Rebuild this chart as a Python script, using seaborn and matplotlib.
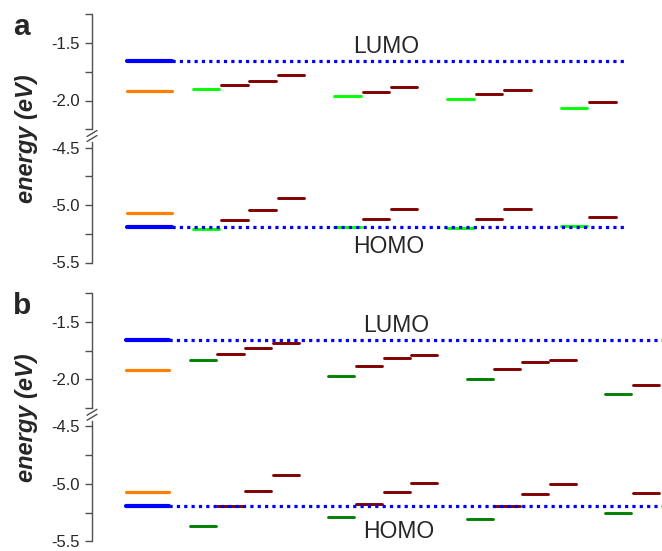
import matplotlib.pyplot as plt
import numpy as np
import pandas as pd
import seaborn as sns
from matplotlib.lines import Line2D
from matplotlib.ticker import FormatStrFormatter, MultipleLocator

# reference levels (eV): [blue, orange]
ref_lumo_a = [-1.66, -1.92]
ref_homo_a = [-5.19, -5.07]
ref_lumo_b = [-1.66, -1.917]
ref_homo_b = [-5.19, -5.07]

# per group: first value is the green level, the rest are dark red
lumo_a = [[-1.90, -1.865, -1.83, -1.78],
          [-1.96, -1.922, -1.884],
          [-1.985, -1.944, -1.912],
          [-2.062, -2.014]]
homo_a = [[-5.21, -5.13, -5.045, -4.935],
          [-5.19, -5.122, -5.032],
          [-5.203, -5.122, -5.032],
          [-5.183, -5.101]]

lumo_b = [[-1.836, -1.778, -1.729, -1.686],
          [-1.967, -1.880, -1.819, -1.787],
          [-1.996, -1.909, -1.848, -1.830],
          [-2.129, -2.048]]
homo_b = [[-5.371, -5.191, -5.061, -4.922],
          [-5.293, -5.174, -5.072, -4.991],
          [-5.310, -5.191, -5.090, -5.003],
          [-5.252, -5.081]]

panel_labels = ['a', 'b']

# layout (slot units)
group_start = {'a': [0, 5, 9, 13], 'b': [0, 5, 10, 15]}
xlims = {'a': (-4.03, 16.11), 'b': (-4.0, 16.58)}
dot_end = {'a': 14.77, 'b': 16.58}
ref_x, ref_half = -2.0, 0.79
seg_half = 0.47


def make_df(ref_lumo, ref_homo, lumo, homo, starts):
    rows = []
    seg = 0
    for vals in (ref_lumo, ref_homo):
        for kind, e in zip(['blue', 'orange'], vals):
            rows += [(seg, kind, ref_x - ref_half, e), (seg, kind, ref_x + ref_half, e)]
            seg += 1
    for levels in (lumo, homo):
        for start, grp in zip(starts, levels):
            for i, e in enumerate(grp):
                kind = 'green' if i == 0 else 'red'
                x = start + i
                rows += [(seg, kind, x - seg_half, e), (seg, kind, x + seg_half, e)]
                seg += 1
    return pd.DataFrame(rows, columns=['seg', 'kind', 'x', 'energy'])


sns.set_style('white')
plt.rcParams['font.family'] = ['Liberation Sans', 'DejaVu Sans']
plt.rcParams['axes.unicode_minus'] = False

W, H = 662, 551
fig = plt.figure(figsize=(W / 100, H / 100), dpi=100)


def fx(px):
    return px / W


def fy(py):
    return 1 - py / H


spine_col = '#505050'
sizes = {'blue': 3.0, 'orange': 2.3, 'green': 2.1, 'red': 2.1}
offsets = [0.0, 278.8]

panels = {
    'a': (ref_lumo_a, ref_homo_a, lumo_a, homo_a, '#00ff00', offsets[0]),
    'b': (ref_lumo_b, ref_homo_b, lumo_b, homo_b, '#008000', offsets[1]),
}
text_pos = {'a': ((6.36, -1.587), (6.47, -5.417)),
            'b': ((7.0, -1.590), (7.08, -5.474))}

for name, (rl, rh, lu, ho, green, dy) in panels.items():
    df = make_df(rl, rh, lu, ho, group_start[name])
    palette = {'blue': '#0000ff', 'orange': '#ff8000', 'green': green, 'red': '#800000'}

    ax_up = fig.add_axes([fx(92), fy(129.25 + dy), fx(570), 115 / H])
    ax_lo = fig.add_axes([fx(92), fy(262.5 + dy), fx(570), 120.75 / H])

    for ax, ylim, lumo_side in ((ax_up, (-2.25, -1.25), True), (ax_lo, (-5.5, -4.45), False)):
        sns.lineplot(data=df, x='x', y='energy', hue='kind', units='seg', estimator=None,
                     size='kind', sizes=sizes, palette=palette, sort=False,
                     legend=False, ax=ax)
        e_dot = rl[0] if lumo_side else rh[0]
        ax.plot([ref_x + ref_half, dot_end[name]], [e_dot, e_dot], color='#0000ff',
                lw=2.3, linestyle=(0, (1, 1.3)), dash_capstyle='butt')
        ax.set_xlim(*xlims[name])
        ax.set_ylim(*ylim)
        ax.set_xlabel('')
        ax.set_ylabel('')
        ax.set_xticks([])
        ax.yaxis.set_major_locator(MultipleLocator(0.5))
        ax.yaxis.set_minor_locator(MultipleLocator(0.25))
        ax.yaxis.set_major_formatter(FormatStrFormatter('%.1f'))
        ax.tick_params(axis='y', which='both', direction='out', length=5, width=1,
                       color=spine_col, labelsize=12, pad=4, left=True)
        for s in ['top', 'right', 'bottom']:
            ax.spines[s].set_visible(False)
        ax.spines['left'].set_color(spine_col)
        ax.spines['left'].set_linewidth(1)
        ax.patch.set_alpha(0)

    (lx, ly), (hx, hy) = text_pos[name]
    ax_up.text(lx, ly, 'LUMO', ha='center', va='baseline', fontsize=16.5, clip_on=False)
    ax_lo.text(hx, hy, 'HOMO', ha='center', va='baseline', fontsize=16.5, clip_on=False)

    # axis break marks
    for yb in (133.5, 138.5):
        fig.add_artist(Line2D([fx(87), fx(97)], [fy(yb + 3 + dy), fy(yb - 3 + dy)],
                              color=spine_col, lw=1))

    fig.text(fx(27), fy(139 + dy), 'energy (eV)', rotation=90, ha='center', va='center',
             fontsize=17, fontweight='bold', fontstyle='italic')

for lbl, dy in zip(panel_labels, offsets):
    fig.text(fx(13), fy(35 + dy), lbl, ha='left', va='baseline', fontsize=21.5,
             fontweight='bold')

fig.savefig('out.png', dpi=100)
